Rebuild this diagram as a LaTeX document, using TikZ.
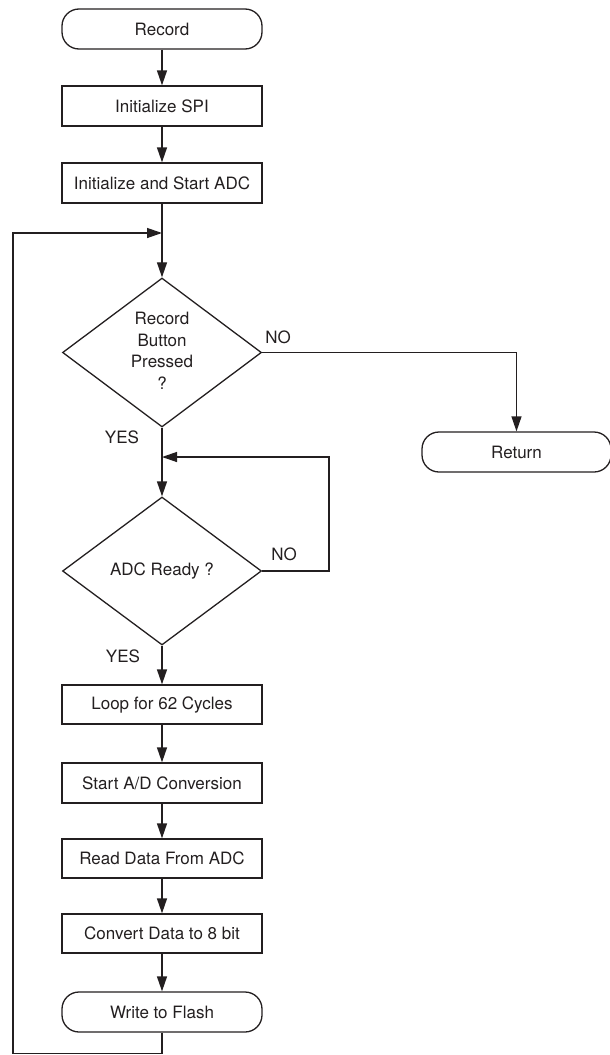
\documentclass[tikz,border=0pt]{standalone}
\usepackage{fontspec}
\setmainfont{TeX Gyre Heros}
\usetikzlibrary{shapes.geometric,arrows.meta}
\definecolor{ink}{RGB}{35,31,32}
\tikzset{
  every node/.style={font=\fontsize{17}{21.7}\selectfont, text=ink},
  procbox/.style={draw=ink, line width=1.3pt, rectangle, minimum width=200pt, minimum height=40pt, inner sep=0pt},
  termbox/.style={draw=ink, line width=1.3pt, rectangle, rounded corners=17pt, minimum width=200pt, minimum height=40pt, inner sep=0pt},
  decbox/.style={draw=ink, line width=1.3pt, diamond, minimum width=199pt, minimum height=149pt, inner sep=0pt, align=center},
  conn/.style={draw=ink, line width=1.3pt},
  arr/.style={conn, -{Triangle[length=15pt,width=10pt]}},
  lbl/.style={inner sep=0pt}
}
\begin{document}
\begin{tikzpicture}[x=1pt,y=-1pt]
\useasboundingbox (0,0) rectangle (610,1055);
\node[termbox] (rec) at (162,29) {Record};
\node[procbox] (spi) at (162,106) {Initialize SPI};
\node[procbox] (iadc) at (162,183) {Initialize and Start ADC};
\node[decbox] (d1) at (162,352.5) {\mbox{}\\[-13pt]Record\\Button\\Pressed\\?};
\node[termbox, minimum width=189pt] (ret) at (516.5,452) {Return};
\node[decbox, minimum height=148pt] (d2) at (162,571) {ADC Ready ?};
\node[procbox, minimum height=39pt] (loop) at (162,704.5) {Loop for 62 Cycles};
\node[procbox] (sad) at (162,783) {Start A/D Conversion};
\node[procbox, minimum height=39pt] (rd) at (162,858.5) {Read Data From ADC};
\node[procbox, minimum height=39pt] (cv) at (162,933.5) {Convert Data to 8 bit};
\node[termbox] (wf) at (162,1012) {Write to Flash};

\coordinate (j1) at (162,233);
\coordinate (j2) at (162,457);
\coordinate (fb1) at (162,1053.5);
\coordinate (fb2) at (13,1053.5);
\coordinate (fb3) at (13,233);
\coordinate (n2) at (329,571);

\node[lbl] (no1) at (278,337) {NO};
\node[lbl] (yes1) at (122,437) {YES};
\node[lbl] (no2) at (284,554) {NO};
\node[lbl] (yes2) at (123,656) {YES};

\draw[arr] (rec) -- (spi);
\draw[arr] (spi) -- (iadc);
\draw[arr] (iadc) -- (d1);
\draw[arr] (d1.east) -| (ret.north);
\draw[arr] (d1) -- (d2);
\draw[arr] (d2.east) -- (n2) |- (j2);
\draw[arr] (d2) -- (loop);
\draw[arr] (loop) -- (sad);
\draw[arr] (sad) -- (rd);
\draw[arr] (rd) -- (cv);
\draw[arr] (cv) -- (wf);
\draw[arr] (wf.south) -- (fb1) -- (fb2) -- (fb3) -- (j1);
\end{tikzpicture}
\end{document}
